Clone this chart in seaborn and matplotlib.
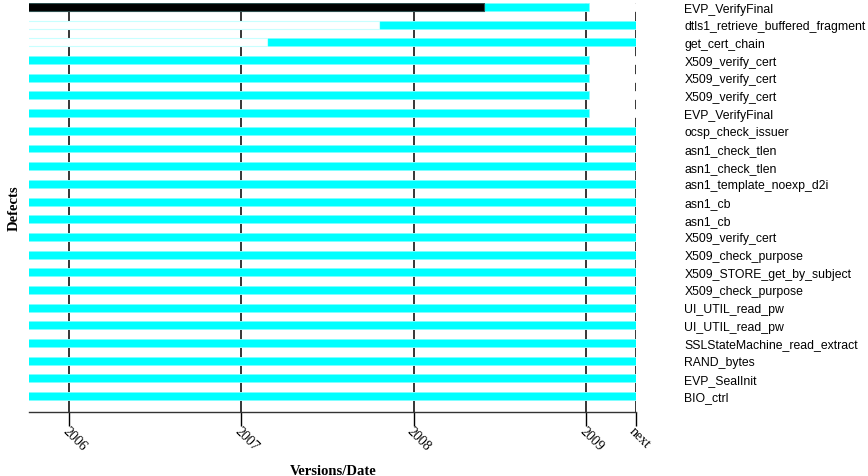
import numpy as np
import pandas as pd
import matplotlib
matplotlib.use('Agg')
import matplotlib.pyplot as plt
import seaborn as sns

# one row per defect, top to bottom
functions = ['EVP_VerifyFinal', 'dtls1_retrieve_buffered_fragment', 'get_cert_chain',
             'X509_verify_cert', 'X509_verify_cert', 'X509_verify_cert', 'EVP_VerifyFinal',
             'ocsp_check_issuer', 'asn1_check_tlen', 'asn1_check_tlen',
             'asn1_template_noexp_d2i', 'asn1_cb', 'asn1_cb', 'X509_verify_cert',
             'X509_check_purpose', 'X509_STORE_get_by_subject', 'X509_check_purpose',
             'UI_UTIL_read_pw', 'UI_UTIL_read_pw', 'SSLStateMachine_read_extract',
             'RAND_bytes', 'EVP_SealInit', 'BIO_ctrl']

# dates as decimal years, 'next' = unreleased version
start_date = 2005.77
next_date = 2009.29
tick_pos = [2006, 2007, 2008, 2009, next_date]
tick_labels = ['2006', '2007', '2008', '2009', 'next']

# when the defect shows up (nan = before the first version)
appeared = [np.nan, 2007.80, 2007.15] + [np.nan] * 20
# when it was fixed (next = still open)
fixed = [2009.02, next_date, next_date, 2009.02, 2009.02, 2009.02, 2009.02] + [next_date] * 16
# dark part of the first bar
black_until = [2008.41] + [np.nan] * 22

rows = list(range(len(functions)))
df = pd.DataFrame({'row': rows, 'appeared': appeared, 'fixed': fixed, 'black': black_until})
df['next'] = next_date

sns.set_style('white')
plt.rcParams['text.color'] = 'black'
plt.rcParams['xtick.color'] = 'black'
plt.rcParams['ytick.color'] = 'black'
plt.rcParams['axes.labelcolor'] = 'black'

fig = plt.figure(figsize=(8.68, 4.77), dpi=100)
ax = fig.add_axes([0.0338, 0.1335, 0.6993, 0.8581])

# layers drawn back to front, each one covers the start of the previous
layers = [('next', 'white', 'white', 0.5),
          ('fixed', '#00ffff', '#80ffff', 0.5),
          ('appeared', 'white', '#c8ffff', 0.8),
          ('black', 'black', '#2f4f4f', 0.8)]
for col, face, edge, lw in layers:
    sub = df.dropna(subset=[col])
    sns.barplot(data=sub, x=col, y='row', order=rows, orient='h', color=face,
                saturation=1, width=0.45, edgecolor=edge, linewidth=lw,
                errorbar=None, ax=ax)

for p in tick_pos:
    ax.axvline(p, color='black', lw=1.1, zorder=0.5)

ax.set_xlim(start_date, next_date + 0.002)
ax.set_ylim(22.92, -0.23)

ax.set_xticks(tick_pos)
ax.set_xticklabels(tick_labels, rotation=-45, ha='left', va='top', rotation_mode='anchor',
                   family='Liberation Serif', fontsize=10)
ax.tick_params(axis='x', bottom=True, length=10, width=1, color='black', pad=-1.5)

ax.yaxis.tick_right()
ax.set_yticks(rows)
ax.set_yticklabels(functions, family='Liberation Sans', fontsize=8.85)
ax.tick_params(axis='y', left=False, right=False, labelleft=False, labelright=True, pad=31)

for s in ['top', 'right', 'left']:
    ax.spines[s].set_visible(False)
ax.spines['bottom'].set_color('#333333')
ax.spines['bottom'].set_linewidth(1)

ax.yaxis.set_label_position('left')
ax.set_ylabel('Defects', family='Liberation Serif', fontweight='bold', fontsize=10.5, labelpad=6)
ax.set_xlabel('Versions/Date', family='Liberation Serif', fontweight='bold', fontsize=10.5, labelpad=8)

fig.savefig('out.png', dpi=100)
